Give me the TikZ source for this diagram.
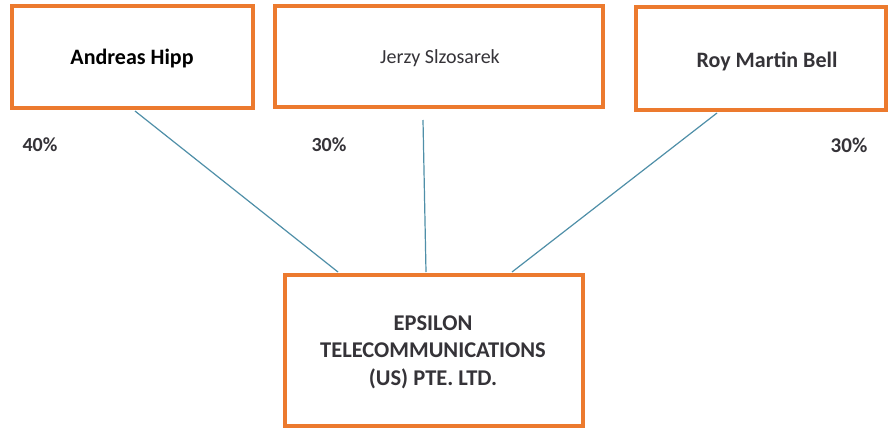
\documentclass[tikz,border=0pt]{standalone}
\usepackage{fontspec}
\setmainfont{Carlito}
\definecolor{boxorange}{HTML}{EC7A2E}
\definecolor{linkblue}{HTML}{4F8FA8}
\definecolor{txtgray}{HTML}{353338}
\begin{document}
\begin{tikzpicture}[x=1pt,y=-1pt,
  ownerbox/.style={draw=boxorange,line width=3.5pt,fill=white,inner sep=0pt},
  link/.style={draw=linkblue,line width=1.2pt},
  pct/.style={text=txtgray,font=\fontsize{20}{24}\selectfont\bfseries},
  lbl/.style={text=txtgray,font=\fontsize{20}{24}\selectfont}]
\useasboundingbox[fill=white] (0,0) rectangle (889,429);
\draw[ownerbox] (12,6) rectangle (253,108);
\draw[ownerbox] (275,6) rectangle (603,107);
\draw[ownerbox] (636,7) rectangle (886,110);
\draw[ownerbox] (285,275) rectangle (583,426);
\node[lbl,text=black,font=\fontsize{22}{24}\selectfont\bfseries] (a) at (132,59) {Andreas Hipp};
\node[lbl] (j) at (440,58) {Jerzy Slzosarek};
\node[lbl,font=\fontsize{22}{24}\selectfont\bfseries] (r) at (767,61) {Roy Martin Bell};
\node[lbl,align=center,font=\fontsize{22.5}{27.5}\selectfont\bfseries] (e) at (433,352) {EPSILON\\TELECOMMUNICATIONS\\(US) PTE. LTD.};
\node[pct] (p1) at (40,145) {40\%};
\node[pct] (p2) at (329,145) {30\%};
\node[pct,font=\fontsize{21}{24}\selectfont\bfseries] (p3) at (849,145) {30\%};
\coordinate (a1) at (135,111);
\coordinate (a2) at (338,272);
\coordinate (j1) at (423,120);
\coordinate (j2) at (426,272);
\coordinate (r1) at (717,113);
\coordinate (r2) at (512,272);
\draw[link] (a1) -- (a2);
\draw[link] (j1) -- (j2);
\draw[link] (r1) -- (r2);
\end{tikzpicture}
\end{document}
